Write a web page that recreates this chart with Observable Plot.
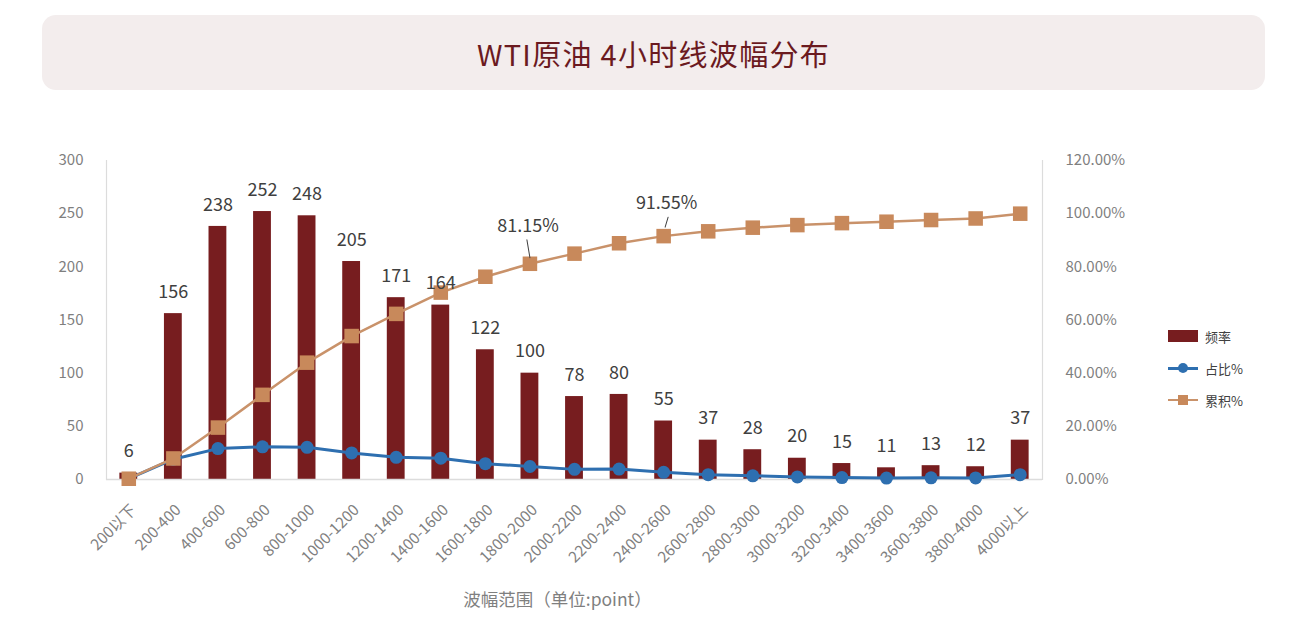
<!DOCTYPE html>
<html>
<head>
<meta charset="utf-8">
<script src="https://cdn.jsdelivr.net/npm/d3@7"></script>
<script src="https://cdn.jsdelivr.net/npm/@observablehq/plot@0.6"></script>
<style>
  html, body { margin: 0; padding: 0; background: #ffffff; }
  body { font-family: "Noto Sans CJK SC", "Noto Sans", sans-serif; width: 1304px; height: 634px; overflow: hidden; }
  #wrap { position: relative; width: 1304px; height: 634px; }
  #titlebar { position: relative; height: 100px; }
  #titlebox { position: absolute; left: 42px; top: 15px; width: 1223px; height: 75px; background: #f3eded; border-radius: 14px;
    display: flex; align-items: center; justify-content: center; color: #6b1a1f; font-size: 29px; letter-spacing: 1.3px; }
  #chart svg { display: block; }
  #legend { position: absolute; left: 1168px; top: 320px; font-size: 13px; color: #404040; }
  .item { position: relative; height: 32px; display: flex; align-items: center; }
  .item span { margin-left: 7px; }
  .sw { width: 30px; height: 12px; position: relative; }
</style>
</head>
<body>
<div id="wrap">
  <div id="titlebar"><div id="titlebox">WTI原油 4小时线波幅分布</div></div>
  <div id="chart"></div>
  <div id="legend"></div>
</div>
<script>
const categories = ["200以下","200-400","400-600","600-800","800-1000","1000-1200","1200-1400","1400-1600","1600-1800","1800-2000","2000-2200","2200-2400","2400-2600","2600-2800","2800-3000","3000-3200","3200-3400","3400-3600","3600-3800","3800-4000","4000以上"];
const freq = [6,156,238,252,248,205,171,164,122,100,78,80,55,37,28,20,15,11,13,12,37];
const sharePct = [0.29,7.62,11.62,12.30,12.11,10.01,8.35,8.01,5.96,4.88,3.81,3.91,2.69,1.81,1.37,0.98,0.73,0.54,0.63,0.59,1.81];
const cumulPct = [0.29,7.91,19.53,31.84,43.95,53.96,62.30,70.31,76.27,81.15,84.96,88.87,91.55,93.36,94.73,95.70,96.44,96.97,97.61,98.19,100.00];
const leftTicks = [0,50,100,150,200,250,300];
const rightTickLabels = ["0.00%","20.00%","40.00%","60.00%","80.00%","100.00%","120.00%"];
const annoCats = ["1800-2000","2400-2600"];
const seriesNames = ["频率","占比%","累积%"];
const xTitle = "波幅范围（单位:point）";

const colBar = "#771d1f", colBlue = "#2e6fb0", colTan = "#c8895b", colTanLine = "#c9926a";

const data = categories.map((c, i) => ({cat: c, freq: freq[i], share: sharePct[i], cumul: cumulPct[i]}));
// percent axis: 120% maps to 300 on the count axis
const pctToY = p => p * 2.5;

const anno0 = data.filter(d => d.cat === annoCats[0]);
const anno1 = data.filter(d => d.cat === annoCats[1]);

const chart = Plot.plot({
  width: 1304, height: 534,
  marginLeft: 106, marginRight: 262, marginTop: 60, marginBottom: 155,
  style: {fontFamily: "'Noto Sans CJK SC', 'Noto Sans', sans-serif", background: "transparent", overflow: "visible"},
  x: {domain: categories, paddingInner: 0.6, paddingOuter: 0.3, round: false},
  y: {domain: [0, 300]},
  marks: [
    Plot.frame({anchor: "left", stroke: "#dcdcdc", strokeWidth: 1.2}),
    Plot.frame({anchor: "right", stroke: "#dcdcdc", strokeWidth: 1.2}),
    Plot.axisY(leftTicks, {anchor: "left", tickSize: 0, tickPadding: 23, fontSize: 15, color: "#7f7f7f", label: null}),
    Plot.axisY(leftTicks, {anchor: "right", tickSize: 0, tickPadding: 23, fontSize: 15, color: "#7f7f7f", label: null,
      tickFormat: (d, i) => rightTickLabels[i]}),
    Plot.axisX({tickRotate: -45, tickSize: 0, tickPadding: 19, dy: 9, dx: 5, fontSize: 15.5, color: "#7f7f7f", label: null}),
    Plot.barY(data, {x: "cat", y: "freq", fill: colBar}),
    Plot.ruleY([0], {stroke: "#dcdcdc", strokeWidth: 1.5}),
    Plot.line(data, {x: "cat", y: d => pctToY(d.share), stroke: colBlue, strokeWidth: 3}),
    Plot.dot(data, {x: "cat", y: d => pctToY(d.share), r: 6.5, fill: colBlue}),
    Plot.line(data, {x: "cat", y: d => pctToY(d.cumul), stroke: colTanLine, strokeWidth: 2.5}),
    Plot.dot(data, {x: "cat", y: d => pctToY(d.cumul), symbol: "square", r: 8.2, fill: colTan}),
    Plot.text(data, {x: "cat", y: "freq", text: d => String(d.freq), dy: -21.5, lineAnchor: "middle", fontSize: 18, fill: "#404040"}),
    Plot.text(anno0, {x: "cat", y: d => pctToY(d.cumul), text: d => d.cumul.toFixed(2) + "%", dx: -2, dy: -38, lineAnchor: "middle", fontSize: 18, fill: "#404040"}),
    Plot.text(anno1, {x: "cat", y: d => pctToY(d.cumul), text: d => d.cumul.toFixed(2) + "%", dx: 3, dy: -33, lineAnchor: "middle", fontSize: 18, fill: "#404040"}),
    Plot.vector(anno0, {x: "cat", y: d => pctToY(d.cumul), dy: -6, length: 18.2, rotate: -9.5, anchor: "start", shape: "arrow", r: 0, stroke: "#404040", strokeWidth: 1}),
    Plot.vector(anno1, {x: "cat", y: d => pctToY(d.cumul), dx: 1.5, dy: -9, length: 10.4, rotate: 16.7, anchor: "start", shape: "arrow", r: 0, stroke: "#404040", strokeWidth: 1}),
    Plot.text([xTitle], {text: d => d, frameAnchor: "bottom", dx: -17, dy: 121, lineAnchor: "middle", fontSize: 17.5, fill: "#7f7f7f"})
  ]
});
document.getElementById("chart").appendChild(chart);

// legend
const legend = document.getElementById("legend");
const swatches = [
  `<div class="sw"><div style="position:absolute;left:0;top:0;width:30px;height:12px;background:${colBar}"></div></div>`,
  `<div class="sw"><div style="position:absolute;left:0;top:5px;width:30px;height:2.5px;background:${colBlue}"></div><div style="position:absolute;left:10px;top:1px;width:10px;height:10px;border-radius:50%;background:${colBlue}"></div></div>`,
  `<div class="sw"><div style="position:absolute;left:0;top:5px;width:30px;height:2px;background:${colTanLine}"></div><div style="position:absolute;left:10px;top:1px;width:10px;height:10px;background:${colTan}"></div></div>`
];
seriesNames.forEach((n, i) => {
  const div = document.createElement("div");
  div.className = "item";
  div.innerHTML = swatches[i] + `<span>${n}</span>`;
  legend.appendChild(div);
});
</script>
</body>
</html>
